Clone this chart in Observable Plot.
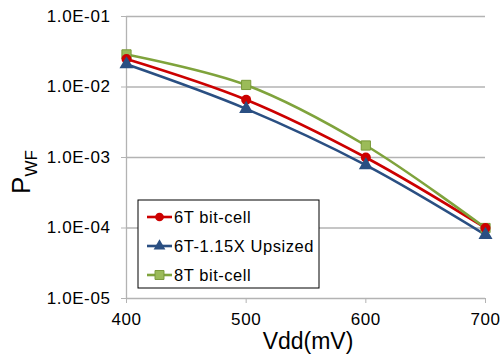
<!DOCTYPE html>
<html>
<head>
<meta charset="utf-8">
<script src="https://cdn.jsdelivr.net/npm/d3@7"></script>
<script src="https://cdn.jsdelivr.net/npm/@observablehq/plot@0.6"></script>
<style>
  html, body { margin: 0; padding: 0; background: #fff; }
  #chart { position: relative; width: 500px; height: 356px; }
  svg { font-family: "Liberation Sans", Arial, sans-serif; }
</style>
</head>
<body>
<div id="chart"></div>
<script>
const vdd = [400, 500, 600, 700];
const p6T = [0.025, 0.0066, 0.00100, 0.000100];
const p6TUp = [0.021, 0.0049, 0.00078, 0.000080];
const p8T = [0.029, 0.0107, 0.00148, 0.000100];
const seriesNames = ["6T bit-cell", "6T-1.15X Upsized", "8T bit-cell"];
const seriesColors = ["#CC0000", "#2A4F82", "#7FA33C"];
const markerFill = ["#CC0000", "#2A4F82", "#9BBB59"];
const markerStroke = ["#CC0000", "#2A4F82", "#7A9A3A"];
const yTicks = [1e-5, 1e-4, 1e-3, 1e-2, 1e-1];
const xTicks = [400, 500, 600, 700];

const values = [p6T, p6TUp, p8T];
const data = [];
values.forEach((arr, si) => arr.forEach((v, i) => data.push({series: seriesNames[si], x: vdd[i], y: v})));

const fmt = v => {
  const e = Math.round(Math.log10(v));
  const s = Math.abs(e) < 10 ? "0" + Math.abs(e) : String(Math.abs(e));
  return "1.0E" + (e < 0 ? "-" : "+") + s;
};

const color = {domain: seriesNames, range: seriesColors};

const plot = Plot.plot({
  width: 500,
  height: 356,
  marginLeft: 126,
  marginRight: 15,
  marginTop: 16,
  marginBottom: 58,
  style: {fontFamily: "'Liberation Sans', Arial, sans-serif", fontSize: "17px", color: "#000", background: "#fff"},
  x: {domain: [400, 700], ticks: xTicks, label: null},
  y: {type: "log", domain: [1e-5, 1e-1], ticks: yTicks, label: null},
  color: color,
  marks: [
    Plot.gridY(yTicks, {stroke: "#b3b3b3", strokeOpacity: 1, strokeWidth: 1.3}),
    Plot.ruleX([400], {stroke: "#b3b3b3", strokeWidth: 1.3}),
    Plot.axisY(yTicks, {tickFormat: fmt, tickSize: 5, tickPadding: 11, stroke: "#b3b3b3", fontSize: 17, fill: "#000"}),
    Plot.axisX(xTicks, {tickSize: 5, tickPadding: 9, stroke: "#b3b3b3", fontSize: 17, fill: "#000"}),
    Plot.line(data, {x: "x", y: "y", z: "series", stroke: "series", strokeWidth: 2.6, curve: "catmull-rom"}),
    Plot.dot(data.filter(d => d.series === seriesNames[2]), {x: "x", y: "y", symbol: "square", r: 5.2, fill: markerFill[2], stroke: markerStroke[2], strokeWidth: 1}),
    Plot.dot(data.filter(d => d.series === seriesNames[0]), {x: "x", y: "y", symbol: "circle", r: 5, fill: markerFill[0]}),
    Plot.dot(data.filter(d => d.series === seriesNames[1]), {x: "x", y: "y", symbol: "triangle", r: 5.2, fill: markerFill[1]})
  ]
});

document.getElementById("chart").appendChild(plot);

const svg = d3.select(plot);
svg.selectAll("g[aria-label='y-axis tick label'] text").attr("letter-spacing", 0.6);
svg.selectAll("g[aria-label='x-axis tick label'] text").attr("letter-spacing", 0.6);
// x axis label
svg.append("text")
  .attr("x", 308).attr("y", 349)
  .attr("text-anchor", "middle")
  .attr("font-size", 23)
  .attr("fill", "#000")
  .text("Vdd(mV)");
// y axis label with subscript
const yl = svg.append("text")
  .attr("transform", "translate(30,172) rotate(-90)")
  .attr("text-anchor", "middle")
  .attr("font-size", 26)
  .attr("fill", "#000");
yl.append("tspan").text("P");
yl.append("tspan").attr("font-size", 17).attr("dy", 7).text("WF");

// legend
const lg = svg.append("g").attr("transform", "translate(138,200)");
lg.append("rect").attr("width", 181).attr("height", 88).attr("fill", "#fff").attr("stroke", "#000").attr("stroke-width", 1);
const sym = [d3.symbolCircle, d3.symbolTriangle, d3.symbolSquare];
seriesNames.forEach((name, i) => {
  const cy = 17 + i * 29;
  lg.append("path").attr("d", `M9,${cy}H34`)
    .attr("fill", "none")
    .attr("stroke", seriesColors[i]).attr("stroke-width", 2.6);
  lg.append("path").attr("transform", `translate(21.5,${cy})`)
    .attr("d", d3.symbol(sym[i], i === 2 ? 80 : 60)())
    .attr("fill", markerFill[i]).attr("stroke", markerStroke[i]).attr("stroke-width", i === 2 ? 1 : 0);
  lg.append("text").attr("x", 36).attr("y", cy + 6)
    .attr("text-anchor", "start")
    .attr("letter-spacing", 0.55)
    .attr("font-size", 16.5).attr("fill", "#000").text(name);
});
</script>
</body>
</html>
